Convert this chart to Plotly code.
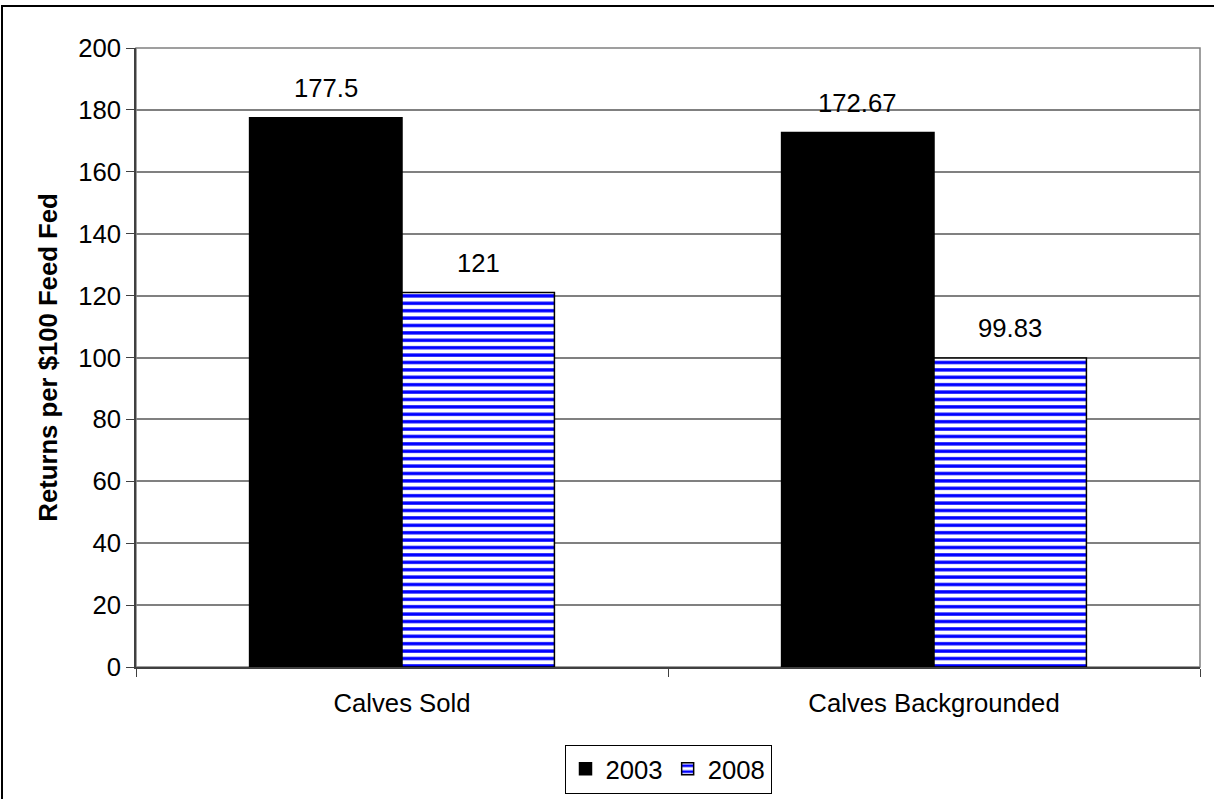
import plotly.graph_objects as go

categories = ["Calves Sold", "Calves Backgrounded"]
series_names = ["2003", "2008"]
values_2003 = [177.5, 172.67]
values_2008 = [121, 99.83]
label_2003 = ["177.5", "172.67"]
label_2008 = ["121", "99.83"]
y_ticks = [0, 20, 40, 60, 80, 100, 120, 140, 160, 180, 200]

FONT = "Arial, 'Liberation Sans', sans-serif"
FS = 25.7
BARGAP = 0.427
bar_w = (1 - BARGAP) / 2

fig = go.Figure()
fig.add_trace(go.Bar(
    name=series_names[0], x=categories, y=values_2003,
    marker=dict(color="black", line=dict(color="black", width=1.5)),
))
fig.add_trace(go.Bar(
    name=series_names[1], x=categories, y=values_2008,
    marker=dict(color="white", line=dict(color="black", width=1.5),
                pattern=dict(shape="-", fgcolor="#0000FF", bgcolor="white",
                             size=7.4, solidity=0.45, fillmode="replace")),
))

annotations = []
for i, (v, t) in enumerate(zip(values_2003, label_2003)):
    annotations.append(dict(x=i - bar_w / 2, y=v, text=t, showarrow=False,
                            xref="x", yref="y", yanchor="bottom", yshift=14,
                            font=dict(family=FONT, size=FS, color="black")))
for i, (v, t) in enumerate(zip(values_2008, label_2008)):
    annotations.append(dict(x=i + bar_w / 2, y=v, text=t, showarrow=False,
                            xref="x", yref="y", yanchor="bottom", yshift=14,
                            font=dict(family=FONT, size=FS, color="black")))

L, R, T, B = 136, 14, 48, 132
W, H = 1214, 799
pw, ph = W - L - R, H - T - B

def px_x(p):
    return (p - L) / pw

def px_y(p):
    return (H - B - p) / ph

shapes = [
    # outer chart border (partly clipped at the right/bottom edges)
    dict(type="rect", xref="paper", yref="paper",
         x0=px_x(2), x1=px_x(1218), y0=px_y(803), y1=px_y(6),
         line=dict(color="black", width=2), fillcolor="rgba(0,0,0,0)", layer="below"),
    # plot area border
    dict(type="rect", xref="paper", yref="paper", x0=0, x1=1, y0=0, y1=1,
         line=dict(color="#808080", width=1.5), fillcolor="rgba(0,0,0,0)", layer="below"),
]

fig.update_layout(
    width=W, height=H,
    margin=dict(l=L, r=R, t=T, b=B, pad=0, autoexpand=False),
    paper_bgcolor="white", plot_bgcolor="white",
    barmode="group", bargap=BARGAP, bargroupgap=0,
    font=dict(family=FONT, size=FS, color="black"),
    showlegend=True,
    legend=dict(orientation="h", x=0.5, xanchor="center", y=px_y(769), yanchor="middle",
                bordercolor="black", borderwidth=1, bgcolor="white",
                font=dict(family=FONT, size=FS, color="black"),
                itemwidth=30, tracegroupgap=0),
    annotations=annotations,
    shapes=shapes,
    xaxis=dict(type="category", tickson="boundaries", ticks="outside", ticklen=8,
               tickcolor="#404040", showline=True, linecolor="#404040", linewidth=1.5,
               showgrid=False, tickfont=dict(family=FONT, size=FS, color="black"),
               ticklabelstandoff=12, range=[-0.5, 1.5], automargin=False),
    yaxis=dict(range=[0, 200], tickvals=y_ticks, ticks="outside", ticklen=8,
               tickcolor="#404040", showline=True, linecolor="#404040", linewidth=1.5,
               showgrid=True, gridcolor="#808080", gridwidth=1.5, zeroline=False,
               tickfont=dict(family=FONT, size=FS, color="black"), automargin=False,
               title=dict(text="<b>Returns per $100 Feed Fed</b>", standoff=13,
                          font=dict(family=FONT, size=FS, color="black"))),
)

fig.write_html("out.html", config={"displayModeBar": False},
               post_script="document.body.style.margin='0';document.body.style.overflow='hidden';")
